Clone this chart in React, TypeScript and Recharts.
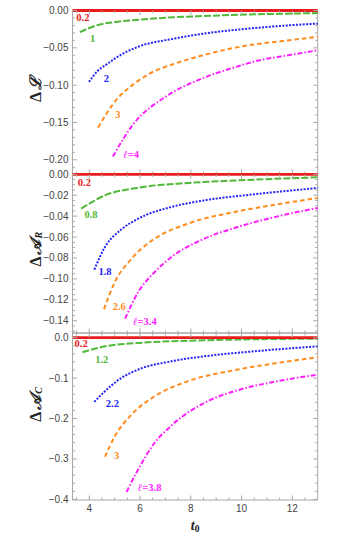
import React from 'react';
import { ComposedChart, Line, XAxis, YAxis, Scatter, ReferenceLine, Label } from 'recharts';

type P = [number, number];

// ---------- shared x axis ----------
const X_DOMAIN: [number, number] = [3.34, 13];
const X_MAJOR = [4, 6, 8, 10, 12];

// ---------- panel 1 : ΔL ----------
const L_l02: P[] = [[3.34, 0], [13, 0]];
const L_l1: P[] = [[3.63, -0.029], [4.0, -0.0235], [4.41, -0.0188], [5.0, -0.0155], [5.72, -0.013], [7.0, -0.0097], [8.33, -0.0076], [10.29, -0.0054], [13, -0.0035]];
const L_l2: P[] = [[3.99, -0.0957], [4.3, -0.082], [4.67, -0.0725], [5.33, -0.0577], [5.98, -0.0479], [7.29, -0.038], [8.5, -0.031], [10.29, -0.0242], [11.6, -0.0205], [13, -0.0175]];
const L_l3: P[] = [[4.35, -0.1566], [5.07, -0.1195], [5.7, -0.1], [6.37, -0.0846], [7.3, -0.072], [8.33, -0.0613], [10.29, -0.0465], [11.6, -0.041], [13, -0.0353]];
const L_l4: P[] = [[4.93, -0.1956], [5.72, -0.153], [7.03, -0.115], [8.33, -0.0926], [9.64, -0.077], [10.82, -0.0658], [11.6, -0.0613], [13, -0.0533]];
const L_labelText = ['0.2', '1', '2', '3', 'ℓ=4'];
const L_labelPos: P[] = [[3.75, -0.0094], [4.13, -0.0376], [4.67, -0.0913], [5.13, -0.1387], [5.65, -0.192]];
const L_yMajor = [0, -0.05, -0.1, -0.15, -0.2];

// ---------- panel 2 : ΔA_R ----------
const R_l02: P[] = [[3.34, 0], [13, 0]];
const R_l08: P[] = [[3.68, -0.0328], [4.62, -0.0201], [5.93, -0.0128], [7.89, -0.0083], [9.85, -0.0058], [13, -0.0029]];
const R_l18: P[] = [[4.2, -0.0911], [4.62, -0.0695], [5.27, -0.0526], [5.93, -0.0424], [7.24, -0.0312], [8.54, -0.0249], [10.5, -0.0191], [13, -0.0131]];
const R_l26: P[] = [[4.58, -0.129], [5.01, -0.1029], [5.67, -0.0806], [6.58, -0.0615], [7.89, -0.0472], [9.85, -0.0354], [11.42, -0.0287], [13, -0.0226]];
const R_l34: P[] = [[5.41, -0.138], [5.93, -0.1125], [6.58, -0.0934], [7.24, -0.079], [8.54, -0.0615], [9.85, -0.0504], [11.42, -0.0402], [13, -0.0322]];
const R_labelText = ['0.2', '0.8', '1.8', '2.6', 'ℓ=3.4'];
const R_labelPos: P[] = [[3.81, -0.008], [4.07, -0.0386], [4.62, -0.0927], [5.18, -0.126], [6.19, -0.1405]];
const R_yMajor = [0, -0.02, -0.04, -0.06, -0.08, -0.1, -0.12, -0.14];

// ---------- panel 3 : ΔA_C ----------
const C_l02: P[] = [[3.34, 0], [13, 0]];
const C_l12: P[] = [[3.73, -0.0361], [4.62, -0.0213], [5.93, -0.0131], [8.54, -0.0065], [13, -0.0024]];
const C_l22: P[] = [[4.2, -0.1588], [4.62, -0.1324], [5.27, -0.0995], [5.93, -0.0789], [7.24, -0.0584], [8.54, -0.046], [10.5, -0.0337], [13, -0.0213]];
const C_l3: P[] = [[4.62, -0.2946], [5.01, -0.2435], [5.67, -0.19], [6.58, -0.1448], [7.89, -0.1077], [9.85, -0.0789], [11.42, -0.0625], [13, -0.0485]];
const C_l38: P[] = [[5.47, -0.3818], [5.93, -0.3258], [6.58, -0.26], [7.24, -0.2172], [8.54, -0.1612], [9.85, -0.13], [11.42, -0.1077], [13, -0.0913]];
const C_labelText = ['0.2', '1.2', '2.2', '3', 'ℓ=3.8'];
const C_labelPos: P[] = [[3.68, -0.0148], [4.49, -0.0543], [4.91, -0.163], [5.08, -0.291], [6.38, -0.371]];
const C_yMajor = [0, -0.1, -0.2, -0.3, -0.4];

// ---------- styles ----------
const STYLES = [
  { color: '#e81c1c', width: 2.8, dash: undefined as string | undefined },
  { color: '#52b83a', width: 2, dash: '7 2' },
  { color: '#2424f5', width: 2, dash: '2 1.4' },
  { color: '#ff8c1e', width: 2, dash: '4.5 3' },
  { color: '#ff1fff', width: 2, dash: '5 2 1.5 2' },
];
const FRAME = '#a8a8a8';
const TICK_TEXT = '#444';
const SANS = '"Liberation Sans", Arial, sans-serif';
const SERIF = '"Liberation Serif", "DejaVu Serif", serif';

const PLOT_LEFT = 72.5;
const PLOT_RIGHT = 317.7;
const W = 339;
const PLOT_W = PLOT_RIGHT - PLOT_LEFT;
const X_AXIS_H = 36;

const range = (from: number, to: number, step: number) => {
  const out: number[] = [];
  const n = Math.round((to - from) / step);
  for (let i = 0; i <= n; i++) out.push(Number((from + i * step).toFixed(6)));
  return out;
};
const isIn = (arr: number[], v: number) => arr.some((m) => Math.abs(m - v) < 1e-9);
const fmtNum = (v: number, d: number) => {
  const s = Math.abs(v).toFixed(d);
  return v < -1e-12 ? '\u2212' + s : s;
};
const toPts = (arr: P[]) => arr.map(([t, v]) => ({ t, v }));

const makeYTick = (majors: number[], decimals: number) => (props: any) => {
  const { x, y, payload } = props;
  const major = isIn(majors, payload.value);
  const len = major ? 4.5 : 2.5;
  return (
    <g>
      <line x1={x} x2={x + len} y1={y} y2={y} stroke={FRAME} strokeWidth={1} />
      <line x1={x + PLOT_W} x2={x + PLOT_W - len} y1={y} y2={y} stroke={FRAME} strokeWidth={1} />
      {major && (
        <text x={x - 4} y={y} dy="0.35em" textAnchor="end" fontSize={10} fill={TICK_TEXT} fontFamily={SANS}>
          {fmtNum(payload.value, decimals)}
        </text>
      )}
    </g>
  );
};

const makeXTick = (plotH: number, showLabel: boolean) => (props: any) => {
  const { x, y, payload } = props;
  const major = isIn(X_MAJOR, payload.value);
  const len = major ? 4.5 : 2.5;
  return (
    <g>
      <line x1={x} x2={x} y1={y} y2={y - len} stroke={FRAME} strokeWidth={1} />
      <line x1={x} x2={x} y1={y - plotH} y2={y - plotH + len} stroke={FRAME} strokeWidth={1} />
      {showLabel && major && (
        <text x={x} y={y + 5} dy="0.71em" textAnchor="middle" fontSize={10} fill={TICK_TEXT} fontFamily={SANS}>
          {payload.value}
        </text>
      )}
    </g>
  );
};

const renderLabelShape = (props: any) => {
  const { cx, cy, payload } = props;
  const txt: string = payload.text;
  const color = STYLES[payload.idx].color;
  if (txt.startsWith('ℓ')) {
    return (
      <text x={cx} y={cy} dy="0.35em" textAnchor="middle" fontSize={10.5} fontWeight="bold" fill={color} fontFamily={SERIF}>
        <tspan fontStyle="italic">ℓ</tspan>
        {txt.slice(1)}
      </text>
    );
  }
  return (
    <text x={cx} y={cy} dy="0.35em" textAnchor="middle" fontSize={10.5} fontWeight="bold" fill={color} fontFamily={SERIF}>
      {txt}
    </text>
  );
};

type PanelProps = {
  top: number;
  bottom: number;
  yDomain: [number, number];
  yMajor: number[];
  yMinor: number[];
  decimals: number;
  series: P[][];
  labelText: string[];
  labelPos: P[];
  yTitle: (cx: number, cy: number) => React.ReactNode;
  titleDy: number;
  showX: boolean;
};

function Panel(p: PanelProps) {
  const plotH = p.bottom - p.top;
  const xTicks = range(3.5, 12.5, 0.5);
  const yTicks = p.yMinor;
  const labels = p.labelPos.map(([t, v], i) => ({ t, v, text: p.labelText[i], idx: i }));
  const order = [1, 2, 3, 4, 0];
  return (
    <div style={{ position: 'absolute', left: 0, top: 0 }}>
      <ComposedChart
        width={W}
        height={p.bottom + X_AXIS_H}
        margin={{ top: p.top, right: W - PLOT_RIGHT, bottom: 0, left: 0 }}
      >
        <XAxis
          dataKey="t"
          type="number"
          domain={X_DOMAIN}
          ticks={xTicks}
          interval={0}
          height={X_AXIS_H}
          tickSize={0}
          tickMargin={0}
          tickLine={false}
          axisLine={{ stroke: FRAME, strokeWidth: 1 }}
          tick={makeXTick(plotH, p.showX)}
        >
          {p.showX && (
            <Label
              content={(lp: any) => {
                const vb = lp.viewBox;
                const cx = vb.x + vb.width / 2;
                const cy = vb.y + 25;
                return (
                  <text x={cx} y={cy} dy="0.35em" textAnchor="middle" fontFamily={SERIF} fontWeight="bold" fontSize={14} fill="#222">
                    <tspan fontStyle="italic">t</tspan>
                    <tspan fontSize={9.5} dy={2.5}>0</tspan>
                  </text>
                );
              }}
            />
          )}
        </XAxis>
        <YAxis
          type="number"
          domain={p.yDomain}
          ticks={yTicks}
          interval={0}
          width={PLOT_LEFT}
          tickSize={0}
          tickMargin={0}
          tickLine={false}
          axisLine={{ stroke: FRAME, strokeWidth: 1 }}
          tick={makeYTick(p.yMajor, p.decimals)}
        >
          <Label
            content={(lp: any) => {
              const vb = lp.viewBox;
              return p.yTitle(35, vb.y + vb.height / 2 + p.titleDy);
            }}
          />
        </YAxis>
        <ReferenceLine x={X_DOMAIN[1]} stroke={FRAME} strokeWidth={1} ifOverflow="visible" />
        <ReferenceLine y={p.yDomain[1]} stroke={FRAME} strokeWidth={1} ifOverflow="visible" />
        {order.map((i) => (
          <Line
            key={i}
            data={toPts(p.series[i])}
            dataKey="v"
            type="monotone"
            dot={false}
            activeDot={false}
            stroke={STYLES[i].color}
            strokeWidth={STYLES[i].width}
            strokeDasharray={STYLES[i].dash}
            isAnimationActive={false}
          />
        ))}
        <Scatter data={labels} dataKey="v" shape={renderLabelShape} isAnimationActive={false} />
      </ComposedChart>
    </div>
  );
}

const titleText = (main: React.ReactNode) => (cx: number, cy: number) => (
  <text
    x={cx}
    y={cy}
    textAnchor="middle"
    dominantBaseline="central"
    transform={`rotate(-90 ${cx} ${cy})`}
    fontFamily={SERIF}
    fontWeight="bold"
    fontSize={16}
    fill="#222"
  >
    {main}
  </text>
);

export default function App() {
  return (
    <div style={{ position: 'absolute', left: 0, top: 0, width: W, height: 536, background: '#fff' }}>
      <Panel
        top={10.5}
        bottom={174}
        yDomain={[-0.219, 0]}
        yMajor={L_yMajor}
        yMinor={range(-0.21, 0, 0.01)}
        decimals={2}
        series={[L_l02, L_l1, L_l2, L_l3, L_l4]}
        labelText={L_labelText}
        labelPos={L_labelPos}
        titleDy={-2.5}
        showX={false}
        yTitle={titleText(
          <>
            <tspan>Δ</tspan>
            <tspan fontStyle="italic" dx={1.5}>ℒ</tspan>
          </>
        )}
      />
      <Panel
        top={174.3}
        bottom={333}
        yDomain={[-0.1517, 0]}
        yMajor={R_yMajor}
        yMinor={range(-0.15, 0, 0.005)}
        decimals={2}
        series={[R_l02, R_l08, R_l18, R_l26, R_l34]}
        labelText={R_labelText}
        labelPos={R_labelPos}
        titleDy={-4.5}
        showX={false}
        yTitle={titleText(
          <>
            <tspan>Δ</tspan>
            <tspan fontStyle="italic" dx={1.5}>𝒜</tspan>
            <tspan fontSize={10} fontStyle="italic" dx={1.5} dy={3}>R</tspan>
          </>
        )}
      />
      <Panel
        top={333}
        bottom={500}
        yDomain={[-0.4017, 0.0116]}
        yMajor={C_yMajor}
        yMinor={range(-0.4, 0, 0.02)}
        decimals={1}
        series={[C_l02, C_l12, C_l22, C_l3, C_l38]}
        labelText={C_labelText}
        labelPos={C_labelPos}
        titleDy={-12}
        showX={true}
        yTitle={titleText(
          <>
            <tspan>Δ</tspan>
            <tspan fontStyle="italic" dx={1.5}>𝒜</tspan>
            <tspan fontSize={10} fontStyle="italic" dx={1.5} dy={3}>C</tspan>
          </>
        )}
      />
    </div>
  );
}
